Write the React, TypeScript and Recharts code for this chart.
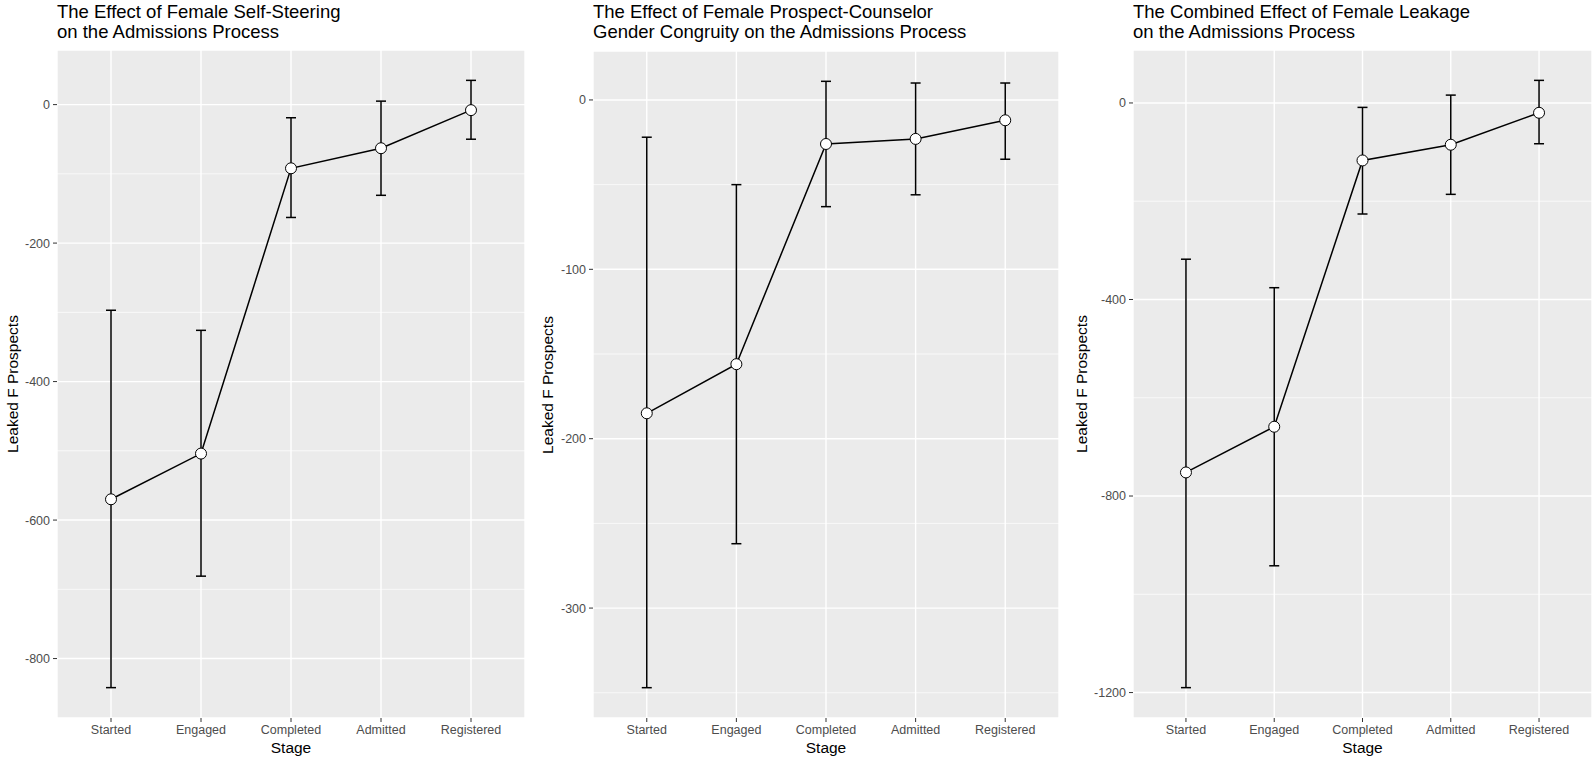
import React from 'react';
import { LineChart, Line, XAxis, YAxis, CartesianGrid, ErrorBar, ReferenceLine } from 'recharts';

const FONT = '"Liberation Sans", Arial, Helvetica, sans-serif';

const stages = ['Started', 'Engaged', 'Completed', 'Admitted', 'Registered'];

// panel 1: self-steering
const selfSteeringMean = [-570, -504, -92, -63, -8];
const selfSteeringLower = [-842, -681, -163, -131, -50];
const selfSteeringUpper = [-297, -326, -19, 5, 35];
const selfSteeringTicks = [-800, -600, -400, -200, 0];
const selfSteeringMinor = [-700, -500, -300, -100];

// panel 2: prospect-counselor congruity
const congruityMean = [-185, -156, -26, -23, -12];
const congruityLower = [-347, -262, -63, -56, -35];
const congruityUpper = [-22, -50, 11, 10, 10];
const congruityTicks = [-300, -200, -100, 0];
const congruityMinor = [-350, -250, -150, -50];

// panel 3: combined leakage
const combinedMean = [-752, -659, -117, -85, -20];
const combinedLower = [-1190, -942, -226, -186, -83];
const combinedUpper = [-318, -376, -9, 16, 46];
const combinedTicks = [-1200, -800, -400, 0];
const combinedMinor = [-1000, -600, -200];

interface PanelProps {
  title: string[];
  mean: number[];
  lower: number[];
  upper: number[];
  ticks: number[];
  minor: number[];
  left: number;
  width: number;
  yAxisWidth: number;
  marginLeft: number;
  marginRight: number;
  marginTop: number;
  labelX: number;
}

const CHART_H = 759;

const StagePanel: React.FC<PanelProps> = (p) => {
  const data = stages.map((s, i) => ({
    pos: i + 1,
    stage: s,
    mean: p.mean[i],
    err: [p.mean[i] - p.lower[i], p.upper[i] - p.mean[i]],
  }));

  // ggplot style 5% expansion
  const lo = Math.min(...p.lower);
  const hi = Math.max(...p.upper);
  const pad = (hi - lo) * 0.05;
  const domain = [lo - pad, hi + pad];

  const plotLeft = p.left + p.marginLeft + p.yAxisWidth;
  const plotRight = p.left + p.width - p.marginRight;
  const plotTop = p.marginTop;
  const plotBottom = 718;

  return (
    <>
      <div
        style={{
          position: 'absolute',
          left: plotLeft,
          top: 2,
          fontSize: 18.5,
          lineHeight: '19.5px',
          color: '#000',
          whiteSpace: 'nowrap',
        }}
      >
        {p.title.map((t) => (
          <div key={t}>{t}</div>
        ))}
      </div>
      <div
        style={{
          position: 'absolute',
          left: p.labelX - 200,
          top: (plotTop + plotBottom) / 2 - 9,
          width: 400,
          height: 18,
          lineHeight: '18px',
          fontSize: 15.5,
          textAlign: 'center',
          color: '#000',
          transform: 'rotate(-90deg)',
          whiteSpace: 'nowrap',
        }}
      >
        Leaked F Prospects
      </div>
      <div
        style={{
          position: 'absolute',
          left: (plotLeft + plotRight) / 2 - 100,
          top: 740,
          width: 200,
          fontSize: 15.5,
          lineHeight: '15px',
          textAlign: 'center',
          color: '#000',
        }}
      >
        Stage
      </div>
      <div style={{ position: 'absolute', left: p.left, top: 0 }}>
        <LineChart
          width={p.width}
          height={CHART_H}
          data={data}
          margin={{ top: plotTop, right: p.marginRight, left: p.marginLeft, bottom: 0 }}
        >
          <CartesianGrid stroke="#ffffff" strokeWidth={1.4} fill="#EBEBEB" fillOpacity={1} />
          {p.minor.map((v) => (
            <ReferenceLine key={v} y={v} stroke="#ffffff" strokeWidth={0.7} />
          ))}
          <XAxis
            type="number"
            dataKey="pos"
            domain={[0.4, 5.6]}
            ticks={[1, 2, 3, 4, 5]}
            tickFormatter={(v: number) => stages[v - 1]}
            interval={0}
            axisLine={false}
            tickSize={4}
            tickMargin={3}
            tickLine={{ stroke: '#333333' }}
            tick={{ fill: '#4D4D4D', fontSize: 12.5 }}
            height={CHART_H - plotBottom}
            allowDataOverflow
          />
          <YAxis
            type="number"
            domain={domain}
            ticks={p.ticks}
            interval={0}
            axisLine={false}
            tickSize={4}
            tickMargin={3}
            tickLine={{ stroke: '#333333' }}
            tick={{ fill: '#4D4D4D', fontSize: 12.5 }}
            width={p.yAxisWidth}
            allowDataOverflow
          />
          <Line
            type="linear"
            dataKey="mean"
            stroke="#000000"
            strokeWidth={1.5}
            dot={{ r: 5.5, fill: '#ffffff', stroke: '#000000', strokeWidth: 1 }}
            activeDot={false}
            isAnimationActive={false}
          >
            <ErrorBar dataKey="err" direction="y" width={5} stroke="#000000" strokeWidth={1.5} isAnimationActive={false} />
          </Line>
        </LineChart>
      </div>
    </>
  );
};

export default function App() {
  return (
    <div
      style={{
        position: 'absolute',
        left: 0,
        top: 0,
        width: 1593,
        height: 759,
        background: '#ffffff',
        fontFamily: FONT,
        overflow: 'hidden',
      }}
    >
      <StagePanel
        title={['The Effect of Female Self-Steering', 'on the Admissions Process']}
        mean={selfSteeringMean}
        lower={selfSteeringLower}
        upper={selfSteeringUpper}
        ticks={selfSteeringTicks}
        minor={selfSteeringMinor}
        left={0}
        width={530}
        yAxisWidth={50}
        marginLeft={7}
        marginRight={5}
        marginTop={50}
        labelX={12.5}
      />
      <StagePanel
        title={['The Effect of Female Prospect-Counselor', 'Gender Congruity on the Admissions Process']}
        mean={congruityMean}
        lower={congruityLower}
        upper={congruityUpper}
        ticks={congruityTicks}
        minor={congruityMinor}
        left={530}
        width={530}
        yAxisWidth={50}
        marginLeft={13}
        marginRight={1}
        marginTop={51}
        labelX={547.5}
      />
      <StagePanel
        title={['The Combined Effect of Female Leakage', 'on the Admissions Process']}
        mean={combinedMean}
        lower={combinedLower}
        upper={combinedUpper}
        ticks={combinedTicks}
        minor={combinedMinor}
        left={1060}
        width={533}
        yAxisWidth={55}
        marginLeft={18}
        marginRight={1}
        marginTop={50}
        labelX={1082}
      />
    </div>
  );
}
